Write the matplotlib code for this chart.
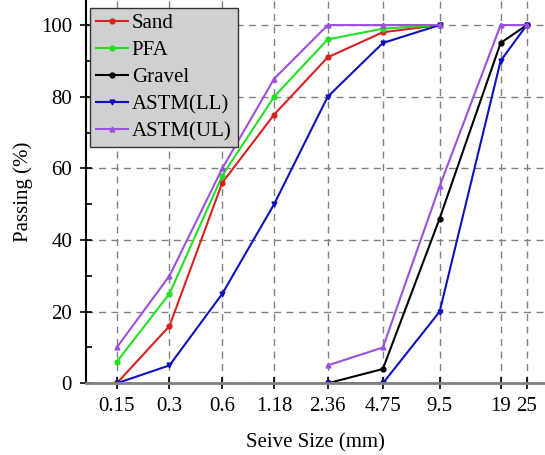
import numpy as np
import matplotlib
matplotlib.use("Agg")
import matplotlib.pyplot as plt
from matplotlib.ticker import FixedLocator, NullLocator, MultipleLocator

# sieve sizes (mm)
sizes = [0.15, 0.3, 0.6, 1.18, 2.36, 4.75, 9.5, 19, 25]
size_labels = ['0.15', '0.3', '0.6', '1.18', '2.36', '4.75', '9.5', '19', '25']

# fine aggregates
fine_x = [0.15, 0.3, 0.6, 1.18, 2.36, 4.75, 9.5]
sand = [0, 16, 56, 75, 91, 98, 100]
pfa = [6, 25, 58, 80, 96, 99, 100]
ll_fine = [0, 5, 25, 50, 80, 95, 100]
ul_fine = [10, 30, 60, 85, 100, 100, 100]

# coarse aggregates
coarse_x = [2.36, 4.75, 9.5, 19, 25]
gravel = [0, 4, 46, 95, 100]
ll_coarse = [0, 0, 20, 90, 100]
ul_coarse = [5, 10, 55, 100, 100]

plt.rcParams['font.family'] = ['Liberation Serif', 'DejaVu Serif']
plt.rcParams['font.size'] = 15

# near-log x axis, slightly stretched towards the coarse end
A = 0.0117
def fwd(x):
    x = np.asarray(x, dtype=float)
    return np.log(np.clip(x, 1e-6, None)) + A * x

_grid = np.logspace(-4, 3, 4000)
_fgrid = fwd(_grid)
def inv(y):
    return np.interp(y, _fgrid, _grid)

fig = plt.figure(figsize=(5.45, 4.55), dpi=100)
ax = fig.add_axes([86 / 545, (455 - 383.3) / 455, 1 - 86 / 545, 383.3 / 455])
ax.set_xscale('function', functions=(fwd, inv))

red = '#d82020'
green = '#22e022'
blue = '#1010c0'
purple = '#9b50e0'
lw = 1.5
ms = 3.5

ax.plot(fine_x, sand, color=red, marker='o', ms=ms, lw=lw, label='Sand')
ax.plot(fine_x, pfa, color=green, marker='o', ms=ms, lw=lw, label='PFA')
ax.plot(coarse_x, gravel, color='black', marker='o', ms=ms, lw=lw, label='Gravel')
ax.plot(fine_x, ll_fine, color=blue, marker='v', ms=ms, lw=lw, label='ASTM(LL)')
ax.plot(coarse_x, ll_coarse, color=blue, marker='v', ms=ms, lw=lw)
ax.plot(fine_x, ul_fine, color=purple, marker='^', ms=ms, lw=lw, label='ASTM(UL)')
ax.plot(coarse_x, ul_coarse, color=purple, marker='^', ms=ms, lw=lw)

ax.set_xlim(0.1, 30)
ax.set_ylim(0, 107)
ax.xaxis.set_major_locator(FixedLocator(sizes))
ax.xaxis.set_minor_locator(NullLocator())
ax.set_xticklabels(size_labels)
ax.yaxis.set_major_locator(FixedLocator([0, 20, 40, 60, 80, 100]))
ax.yaxis.set_minor_locator(MultipleLocator(10))

ax.grid(True, which='major', color='#808080', linestyle=(0, (5, 4)), linewidth=1.0)
ax.tick_params(axis='both', which='major', direction='inout', length=8, width=1.2, pad=6)
ax.tick_params(axis='y', which='minor', direction='in', length=4, width=1.2)

for s in ['top', 'right']:
    ax.spines[s].set_visible(False)
ax.spines['left'].set_linewidth(1.5)
ax.spines['bottom'].set_linewidth(2)
ax.spines['bottom'].set_color('#808080')

ax.set_xlabel('Seive Size (mm)', labelpad=12)
ax.set_ylabel('Passing (%)', labelpad=6)

leg = ax.legend(loc='upper left', bbox_to_anchor=(0.009, 0.98), fancybox=False,
                framealpha=1, facecolor='#d0d0d0', edgecolor='#333333',
                handlelength=1.5, handletextpad=0.2, labelspacing=0.35,
                borderpad=0.3, borderaxespad=0.0)
leg.get_frame().set_linewidth(1.0)

fig.savefig('out.png', dpi=100)
